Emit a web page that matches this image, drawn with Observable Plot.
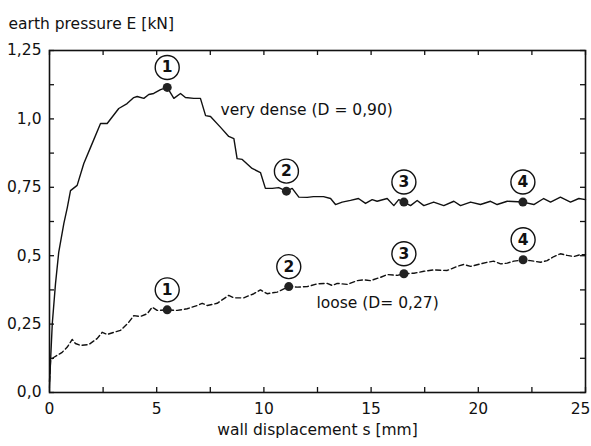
<!DOCTYPE html>
<html>
<head>
<meta charset="utf-8">
<script src="https://cdn.jsdelivr.net/npm/d3@7"></script>
<script src="https://cdn.jsdelivr.net/npm/@observablehq/plot@0.6"></script>
<style>
  html, body { margin: 0; padding: 0; background: #fff; }
  svg { display: block; }
</style>
</head>
<body>
<div id="chart"></div>
<script>
// very dense curve (D = 0,90)
const denseX = [0, 0.05, 0.13, 0.28, 0.43, 0.67, 0.83, 0.98, 1.29, 1.60, 1.91, 2.38, 2.69, 3.23, 3.62, 3.93, 4.09, 4.40, 4.63, 4.86, 5.18, 5.49, 5.80, 6.11, 6.34, 6.73, 7.04, 7.28, 7.51, 7.98, 8.36, 8.60, 8.75, 8.99, 9.45, 9.84, 10.07, 10.39, 10.69, 11.05, 11.32, 11.63, 12.02, 12.31, 12.78, 13.11, 13.34, 13.65, 14.04, 14.41, 14.74, 15.05, 15.28, 15.75, 16.06, 16.29, 16.53, 16.84, 17.15, 17.46, 17.92, 18.39, 18.86, 19.17, 19.64, 20.10, 20.57, 20.88, 21.35, 22.08, 22.59, 23.05, 23.37, 23.83, 24.30, 24.69, 25.0];
const denseY = [0.02, 0.117, 0.252, 0.398, 0.512, 0.618, 0.676, 0.738, 0.757, 0.837, 0.895, 0.983, 0.983, 1.038, 1.056, 1.078, 1.082, 1.075, 1.089, 1.093, 1.107, 1.115, 1.075, 1.093, 1.078, 1.075, 1.075, 1.012, 1.009, 0.969, 0.936, 0.928, 0.855, 0.852, 0.819, 0.804, 0.746, 0.746, 0.749, 0.736, 0.746, 0.714, 0.713, 0.716, 0.716, 0.709, 0.687, 0.696, 0.702, 0.709, 0.691, 0.705, 0.699, 0.709, 0.683, 0.705, 0.696, 0.683, 0.702, 0.683, 0.696, 0.683, 0.699, 0.683, 0.696, 0.687, 0.699, 0.687, 0.699, 0.696, 0.687, 0.709, 0.696, 0.714, 0.696, 0.709, 0.705];

// loose curve (D = 0,27)
const looseX = [0, 0.05, 0.19, 0.59, 0.83, 1.06, 1.21, 1.45, 1.83, 2.22, 2.46, 2.69, 3.00, 3.31, 3.70, 3.93, 4.24, 4.56, 4.79, 5.02, 5.49, 5.96, 6.42, 6.89, 7.12, 7.36, 7.82, 8.36, 8.60, 9.06, 9.53, 9.84, 10.15, 10.62, 11.16, 11.55, 12.02, 12.49, 12.95, 13.19, 13.42, 13.89, 14.35, 14.66, 14.97, 15.44, 15.75, 16.22, 16.53, 17.00, 17.46, 17.92, 18.55, 19.02, 19.32, 19.64, 20.10, 20.41, 20.72, 21.04, 21.35, 21.66, 22.09, 22.43, 22.90, 23.21, 23.53, 23.83, 24.15, 24.45, 24.77, 25.0];
const looseY = [0.04, 0.117, 0.128, 0.147, 0.166, 0.194, 0.179, 0.172, 0.175, 0.197, 0.220, 0.212, 0.220, 0.227, 0.257, 0.281, 0.278, 0.288, 0.312, 0.300, 0.302, 0.300, 0.306, 0.318, 0.326, 0.318, 0.326, 0.355, 0.346, 0.346, 0.361, 0.375, 0.361, 0.367, 0.387, 0.385, 0.387, 0.397, 0.399, 0.391, 0.399, 0.395, 0.409, 0.412, 0.409, 0.421, 0.431, 0.428, 0.434, 0.436, 0.443, 0.448, 0.446, 0.461, 0.468, 0.461, 0.470, 0.476, 0.480, 0.470, 0.473, 0.480, 0.485, 0.482, 0.476, 0.482, 0.497, 0.507, 0.501, 0.497, 0.504, 0.504];

// numbered markers
const markerLabels = ["1", "2", "3", "4"];
const denseMarkerX = [5.49, 11.05, 16.53, 22.08];
const denseMarkerY = [1.115, 0.736, 0.696, 0.696];
const looseMarkerX = [5.49, 11.16, 16.53, 22.09];
const looseMarkerY = [0.302, 0.387, 0.434, 0.485];

// curve annotations
const curveLabels = ["very dense (D = 0,90)", "loose (D= 0,27)"];
const curveLabelX = [7.98, 12.45];
const curveLabelY = [1.031, 0.326];

// axes
const xMajorTicks = [0, 5, 10, 15, 20];
const xLastTick = [25];
const xAllTicks = [0, 2.5, 5, 7.5, 10, 12.5, 15, 17.5, 20, 22.5, 25];
const yMajorTicks = [0, 0.25, 0.5, 0.75, 1.0, 1.25];
const yTickLabels = ["0,0", "0,25", "0,5", "0,75", "1,0", "1,25"];
const yAllTicks = [0, 0.125, 0.25, 0.375, 0.5, 0.625, 0.75, 0.875, 1.0, 1.125, 1.25];
const xTitle = "wall displacement s [mm]";
const yTitle = "earth pressure E [kN]";

const W = 591, H = 446, mL = 49, mR = 6, mT = 50, mB = 54;
const innerW = W - mL - mR, innerH = H - mT - mB;
const tickLen = 5;
const font = "DejaVu Sans, sans-serif";

const dense = denseX.map((x, i) => ({x, y: denseY[i]}));
const loose = looseX.map((x, i) => ({x, y: looseY[i]}));
const markers = [
  ...markerLabels.map((t, i) => ({x: denseMarkerX[i], y: denseMarkerY[i], t})),
  ...markerLabels.map((t, i) => ({x: looseMarkerX[i], y: looseMarkerY[i], t}))
];
const annots = curveLabels.map((t, i) => ({t, x: curveLabelX[i], y: curveLabelY[i]}));
const yLabelMap = new Map(yMajorTicks.map((v, i) => [v, yTickLabels[i]]));

const chart = Plot.plot({
  width: W, height: H,
  marginLeft: mL, marginRight: mR, marginTop: mT, marginBottom: mB,
  style: {fontFamily: font, fontSize: "15px", color: "#111", background: "#fff"},
  x: {domain: [0, 25]},
  y: {domain: [0, 1.25]},
  marks: [
    // tick labels
    Plot.axisX(xMajorTicks, {anchor: "bottom", tickSize: 0, tickPadding: 10, label: null, fontSize: 15.5, tickFormat: d => String(d)}),
    Plot.axisX(xLastTick, {anchor: "bottom", tickSize: 0, tickPadding: 10, label: null, fontSize: 15.5, dx: -5, tickFormat: d => String(d)}),
    Plot.axisY(yMajorTicks, {anchor: "left", tickSize: 0, tickPadding: 8, label: null, fontSize: 15.5, tickFormat: d => yLabelMap.get(d)}),
    // inward ticks on all four sides
    Plot.tickX(xAllTicks, {x: d => d, insetTop: innerH - tickLen, stroke: "#111", strokeWidth: 1.3}),
    Plot.tickX(xAllTicks, {x: d => d, insetBottom: innerH - tickLen, stroke: "#111", strokeWidth: 1.3}),
    Plot.tickY(yAllTicks, {y: d => d, insetRight: innerW - tickLen, stroke: "#111", strokeWidth: 1.3}),
    Plot.tickY(yAllTicks, {y: d => d, insetLeft: innerW - tickLen, stroke: "#111", strokeWidth: 1.3}),
    Plot.frame({stroke: "#111", strokeWidth: 1.6}),
    // curves
    Plot.line(dense, {x: "x", y: "y", stroke: "#111", strokeWidth: 1.4}),
    Plot.line(loose, {x: "x", y: "y", stroke: "#111", strokeWidth: 1.4, strokeDasharray: "5,3"}),
    // marker dots
    Plot.dot(markers, {x: "x", y: "y", r: 4.5, fill: "#222", stroke: "none"}),
    // circled numbers
    Plot.dot(markers, {x: "x", y: "y", r: 12, dy: -20, fill: "#fff", stroke: "#111", strokeWidth: 1.4}),
    Plot.text(markers, {x: "x", y: "y", text: "t", dy: -20, fontSize: 15.5, fontWeight: "bold", fill: "#111"}),
    // curve annotations
    Plot.text(annots, {x: "x", y: "y", text: "t", textAnchor: "start", fontSize: 15.5, fill: "#111"}),
    // axis titles
    Plot.text([yTitle], {text: d => d, frameAnchor: "top-left", dx: -41, dy: -33, textAnchor: "start", fontSize: 15.5, fill: "#111"}),
    Plot.text([xTitle], {text: d => d, frameAnchor: "bottom", dy: 42, fontSize: 15.5, fill: "#111"})
  ]
});
document.getElementById("chart").appendChild(chart);
</script>
</body>
</html>
